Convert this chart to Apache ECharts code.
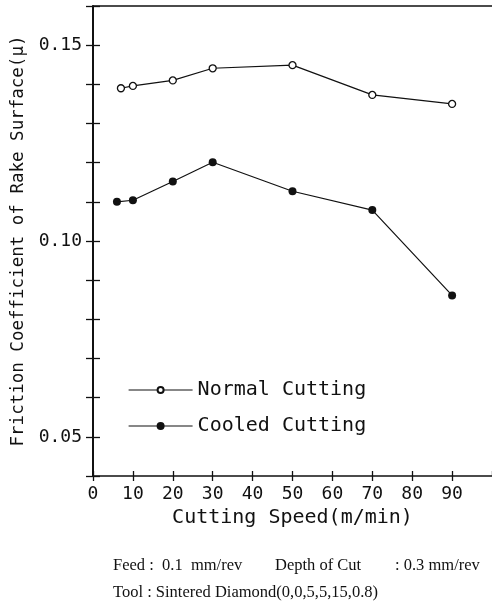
<!DOCTYPE html>
<html>
<head>
<meta charset="utf-8">
<script src="https://cdn.jsdelivr.net/npm/echarts@6/dist/echarts.min.js"></script>
<style>
html,body{margin:0;padding:0;background:#fff;}
#chart{width:492px;height:615px;}
</style>
</head>
<body>
<div id="chart"></div>
<script>
// ---- data ----
const speedsNormal = [7, 10, 20, 30, 50, 70, 90];
const frictionNormal = [0.1390, 0.1396, 0.1410, 0.1441, 0.1449, 0.1373, 0.1350];
const speedsCooled = [6, 10, 20, 30, 50, 70, 90];
const frictionCooled = [0.1100, 0.1104, 0.1152, 0.1201, 0.1127, 0.1079, 0.0861];
const seriesNames = ['Normal Cutting', 'Cooled Cutting'];
const xTickLabels = ['0','10','20','30','40','50','60','70','80','90'];
const yTickLabels = ['0.05','0.10','0.15'];
const noteLine1a = 'Feed :  0.1  mm/rev';
const noteLine1b = 'Depth of Cut';
const noteLine1c = ': 0.3 mm/rev';
const noteLine2 = 'Tool : Sintered Diamond(0,0,5,5,15,0.8)';

const MONO = '"DejaVu Sans Mono", monospace';
const SERIF = '"Liberation Serif", "Times New Roman", serif';
const INK = '#111';

function pairs(xs, ys) { return xs.map((x, i) => [x, ys[i]]); }

const chart = echarts.init(document.getElementById('chart'), null, {renderer: 'canvas'});

const xBase = {
  type: 'value', min: 0, max: 100, interval: 10, gridIndex: 0,
  splitLine: {show: false}
};
const yBase = {
  type: 'value', min: 0.04, max: 0.16, interval: 0.01, gridIndex: 0,
  splitLine: {show: false}
};
const legendBase = {
  orient: 'vertical', left: 128, padding: 0,
  itemWidth: 64,
  lineStyle: {width: 1.2, color: INK},
  textStyle: {fontFamily: MONO, fontSize: 20, color: INK}
};

chart.setOption({
  backgroundColor: '#fff',
  animation: false,
  grid: {left: 93, top: 6, width: 400, height: 470, containLabel: false},
  legend: [
    Object.assign({}, legendBase, {top: 380, itemHeight: 7.5, data: [seriesNames[0]]}),
    Object.assign({}, legendBase, {top: 416, itemHeight: 10, data: [seriesNames[1]]})
  ],
  xAxis: [
    Object.assign({}, xBase, {
      position: 'bottom',
      name: 'Cutting Speed(m/min)',
      nameLocation: 'middle', nameGap: 32,
      nameTextStyle: {fontFamily: MONO, fontSize: 20, color: INK},
      axisLine: {show: true, lineStyle: {color: INK, width: 1.5}},
      axisTick: {show: true, inside: false, length: 5, lineStyle: {color: INK, width: 1.3}},
      axisLabel: {
        show: true, margin: 9, fontFamily: MONO, fontSize: 18, color: INK,
        showMaxLabel: false,
        formatter: v => { const s = String(Math.round(v)); return xTickLabels.indexOf(s) >= 0 ? s : ''; }
      }
    }),
    Object.assign({}, xBase, {
      position: 'bottom',
      axisLine: {show: false},
      axisTick: {show: true, inside: true, length: 5, lineStyle: {color: INK, width: 1.3}},
      axisLabel: {show: false}
    }),
    Object.assign({}, xBase, {
      position: 'top',
      axisLine: {show: true, lineStyle: {color: INK, width: 1.5}},
      axisTick: {show: false},
      axisLabel: {show: false}
    })
  ],
  yAxis: [
    Object.assign({}, yBase, {
      position: 'left',
      name: 'Friction Coefficient of Rake Surface(μ)',
      nameLocation: 'middle', nameGap: 64, nameRotate: 90,
      nameTextStyle: {fontFamily: MONO, fontSize: 17.5, color: INK},
      axisLine: {show: true, lineStyle: {color: INK, width: 2}},
      axisTick: {show: true, inside: false, length: 7, lineStyle: {color: INK, width: 1.3}},
      axisLabel: {
        show: true, margin: 11, fontFamily: MONO, fontSize: 18, color: INK,
        formatter: v => { const s = (Math.round(v * 100) / 100).toFixed(2); return yTickLabels.indexOf(s) >= 0 ? s : ''; }
      }
    }),
    Object.assign({}, yBase, {
      position: 'left',
      axisLine: {show: false},
      axisTick: {show: true, inside: true, length: 7, lineStyle: {color: INK, width: 1.3}},
      axisLabel: {show: false}
    })
  ],
  series: [
    {
      name: seriesNames[0], type: 'line', xAxisIndex: 0, yAxisIndex: 0,
      data: pairs(speedsNormal, frictionNormal),
      symbol: 'circle', symbolSize: 7,
      itemStyle: {color: '#fff', borderColor: INK, borderWidth: 1.3},
      lineStyle: {color: INK, width: 1.2},
      emphasis: {disabled: true}
    },
    {
      name: seriesNames[1], type: 'line', xAxisIndex: 0, yAxisIndex: 0,
      data: pairs(speedsCooled, frictionCooled),
      symbol: 'circle', symbolSize: 8,
      itemStyle: {color: INK, borderColor: INK, borderWidth: 0},
      lineStyle: {color: INK, width: 1.2},
      emphasis: {disabled: true}
    }
  ],
  graphic: [
    {type: 'text', left: 113, top: 557, style: {text: noteLine1a, font: '16.5px ' + SERIF, fill: '#111'}},
    {type: 'text', left: 275, top: 557, style: {text: noteLine1b, font: '16.5px ' + SERIF, fill: '#111'}},
    {type: 'text', left: 395, top: 557, style: {text: noteLine1c, font: '16.5px ' + SERIF, fill: '#111'}},
    {type: 'text', left: 113, top: 584, style: {text: noteLine2, font: '16.5px ' + SERIF, fill: '#111'}}
  ]
});
</script>
</body>
</html>
